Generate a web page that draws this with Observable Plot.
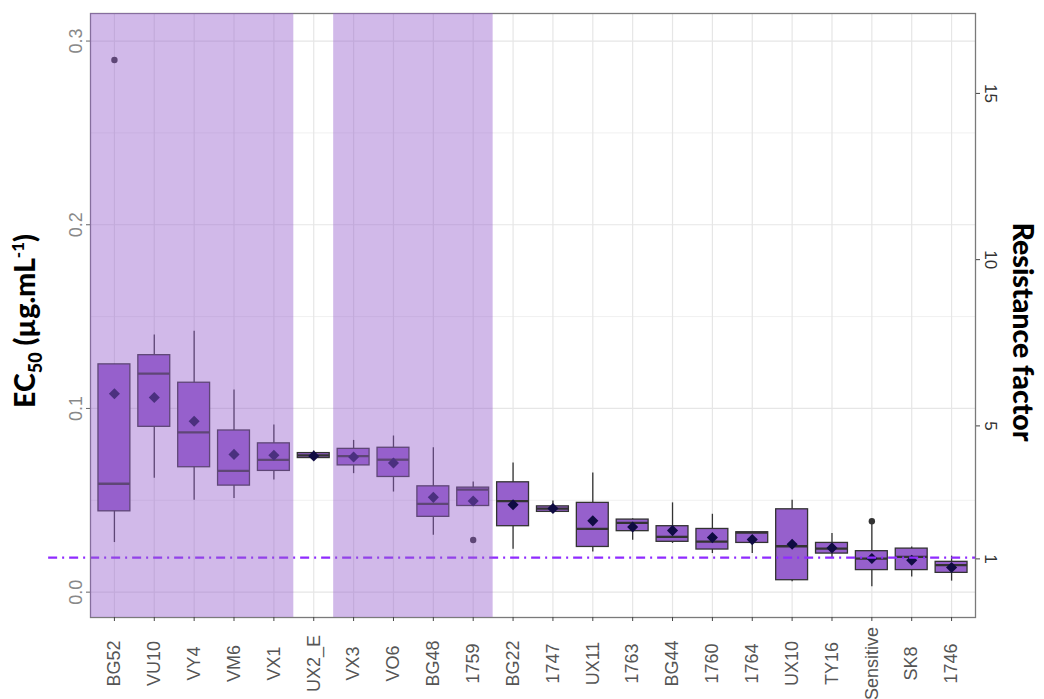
<!DOCTYPE html>
<html><head><meta charset="utf-8">
<script src="https://cdn.jsdelivr.net/npm/d3@7"></script>
<script src="https://cdn.jsdelivr.net/npm/@observablehq/plot@0.6"></script>
<style>body{margin:0;background:#fff} svg{display:block}</style>
</head><body><div id="chart"></div>
<script>
// ---- data ----
const categories = ["BG52","VU10","VY4","VM6","VX1","UX2_E","VX3","VO6","BG48","1759","BG22","1747","UX11","1763","BG44","1760","1764","UX10","TY16","Sensitive","SK8","1746"];
const whiskerLow  = [0.027, 0.062, 0.050, 0.051, 0.061, 0.0717, 0.0645, 0.0545, 0.031, 0.0469, 0.0234, 0.0437, 0.0219, 0.0283, 0.0265, 0.0210, 0.0210, 0.0056, 0.0189, 0.0029, 0.0083, 0.0060];
const q1          = [0.044, 0.090, 0.068, 0.058, 0.066, 0.0730, 0.0690, 0.0627, 0.041, 0.0469, 0.0359, 0.0437, 0.0246, 0.0332, 0.0274, 0.0232, 0.0268, 0.0065, 0.0210, 0.0120, 0.0120, 0.0105];
const median      = [0.059, 0.119, 0.087, 0.066, 0.072, 0.0745, 0.0740, 0.0721, 0.048, 0.0558, 0.0495, 0.0455, 0.0344, 0.0377, 0.0301, 0.0275, 0.0324, 0.0250, 0.0237, 0.0183, 0.0192, 0.0147];
const q3          = [0.124, 0.129, 0.114, 0.088, 0.081, 0.0757, 0.0780, 0.0786, 0.0576, 0.0569, 0.0598, 0.0467, 0.0486, 0.0395, 0.0359, 0.0344, 0.0326, 0.0451, 0.0268, 0.0223, 0.0237, 0.0165];
const whiskerHigh = [0.124, 0.140, 0.142, 0.110, 0.091, 0.0768, 0.0826, 0.0850, 0.0786, 0.0600, 0.0703, 0.0496, 0.0649, 0.0400, 0.0486, 0.0424, 0.0326, 0.0500, 0.0319, 0.0375, 0.0246, 0.0196];
const means       = [0.108, 0.106, 0.093, 0.075, 0.0745, 0.0741, 0.0736, 0.0703, 0.0516, 0.0496, 0.0476, 0.0455, 0.0388, 0.0355, 0.0335, 0.0297, 0.0286, 0.0261, 0.0241, 0.0183, 0.0174, 0.0134];
const outlierCategories = ["BG52", "1759", "Sensitive"];
const outlierValues     = [0.2897, 0.0284, 0.0386];
const shadedGroups = [["BG52","VX1"], ["VX3","1759"]];
const ec50Ticks = [0, 0.1, 0.2, 0.3];
const ec50MinorTicks = [0.05, 0.15, 0.25];
const rfTicks = [1, 5, 10, 15];
const rfBase = 0.0181;          // EC50 corresponding to resistance factor 1
const referenceLine = 0.0188;   // dash-dot reference line
const referenceLineStart = -1.65;

// ---- derived tables ----
const n = categories.length;
const idx = d3.range(n);
const boxes = idx.map(i => ({i, lo: whiskerLow[i], q1: q1[i], med: median[i], q3: q3[i], hi: whiskerHigh[i], mean: means[i]}));
const outliers = outlierCategories.map((c, k) => ({i: categories.indexOf(c), v: outlierValues[k]}));
const xDomain = [-0.6, n - 0.4];
const yDomain = [-0.0138, 0.315];
const shaded = shadedGroups.map(([a, b]) => {
  const ia = categories.indexOf(a), ib = categories.indexOf(b);
  return {x1: ia === 0 ? xDomain[0] : ia - 0.5, x2: ib === n - 1 ? xDomain[1] : ib + 0.5};
});
const bw = 0.4;
const boxFill = "#9660cc";
const dark = "#333333";

const chart = Plot.plot({
  width: 1044, height: 699,
  marginLeft: 90, marginRight: 69, marginTop: 13, marginBottom: 82,
  x: {type: "linear", domain: xDomain, axis: null},
  y: {domain: yDomain, axis: null},
  style: {fontFamily: "'Liberation Sans', Arial, sans-serif", fontSize: "18px", background: "white", overflow: "visible"},
  marks: [
    Plot.ruleY(ec50MinorTicks, {stroke: "#f0f0f0", strokeWidth: 1}),
    Plot.ruleY(ec50Ticks, {stroke: "#e6e6e6", strokeWidth: 1.2}),
    Plot.ruleX(idx, {stroke: "#e6e6e6", strokeWidth: 1.2}),
    Plot.ruleX(boxes, {x: "i", y1: "lo", y2: "hi", stroke: dark, strokeWidth: 1.3}),
    Plot.rect(boxes, {x1: d => d.i - bw, x2: d => d.i + bw, y1: "q1", y2: "q3", fill: boxFill, stroke: dark, strokeWidth: 1.3}),
    Plot.ruleY(boxes, {x1: d => d.i - bw, x2: d => d.i + bw, y: "med", stroke: dark, strokeWidth: 2.3}),
    Plot.dot(outliers, {x: "i", y: "v", r: 3.2, fill: dark, stroke: null}),
    Plot.dot(boxes, {x: "i", y: "mean", symbol: "diamond2", r: 5, fill: "#100c42", stroke: null}),
    Plot.ruleY([referenceLine], {x1: referenceLineStart, x2: xDomain[1], stroke: "#8f2bff", strokeWidth: 2.2, strokeDasharray: "9,5,2,5", clip: false}),
    Plot.frame({stroke: "#7a7a7a", strokeWidth: 1.3}),
    Plot.rect(shaded, {x1: "x1", x2: "x2", y1: yDomain[0], y2: yDomain[1], fill: boxFill, fillOpacity: 0.44}),
    Plot.axisX({ticks: idx, tickFormat: i => categories[i], tickRotate: -90, textAnchor: "middle", tickSize: 4, tickPadding: 42, stroke: "#444", fill: "#555", fontSize: 18, label: null}),
    Plot.axisY({anchor: "left", ticks: ec50Ticks, tickFormat: d3.format(".1f"), tickRotate: -90, tickSize: 4, tickPadding: 5, stroke: "#666", fill: "#888", fontSize: 18, label: null}),
    Plot.axisY({anchor: "right", ticks: rfTicks.map(r => r * rfBase), tickFormat: v => String(Math.round(v / rfBase)), tickRotate: 90, lineAnchor: "bottom", tickSize: 4, tickPadding: 5, stroke: "#444", fill: "#333", fontSize: 17, label: null})
  ]
});

const svg = d3.select(chart);
const midY = 13 + (699 - 13 - 82) / 2;
const t1 = svg.append("text")
  .attr("transform", `translate(35,${midY + 6}) rotate(-90)`)
  .attr("text-anchor", "middle")
  .attr("font-family", "Lato, 'Open Sans', sans-serif")
  .attr("font-weight", "900").attr("font-size", 28.5).attr("fill", "#000");
t1.append("tspan").text("EC");
t1.append("tspan").attr("font-size", 18).attr("dy", 7).text("50");
t1.append("tspan").attr("dy", -7).text(" (µg.mL");
t1.append("tspan").attr("font-size", 17).attr("dy", -11).text("-1");
t1.append("tspan").attr("dy", 11).text(")");

svg.append("text")
  .attr("transform", `translate(1013,${midY + 17}) rotate(90)`)
  .attr("text-anchor", "middle")
  .attr("font-family", "Lato, 'Open Sans', sans-serif")
  .attr("font-weight", "900").attr("font-size", 28.5).attr("fill", "#000")
  .text("Resistance factor");

document.getElementById("chart").appendChild(chart);
</script>
</body></html>
